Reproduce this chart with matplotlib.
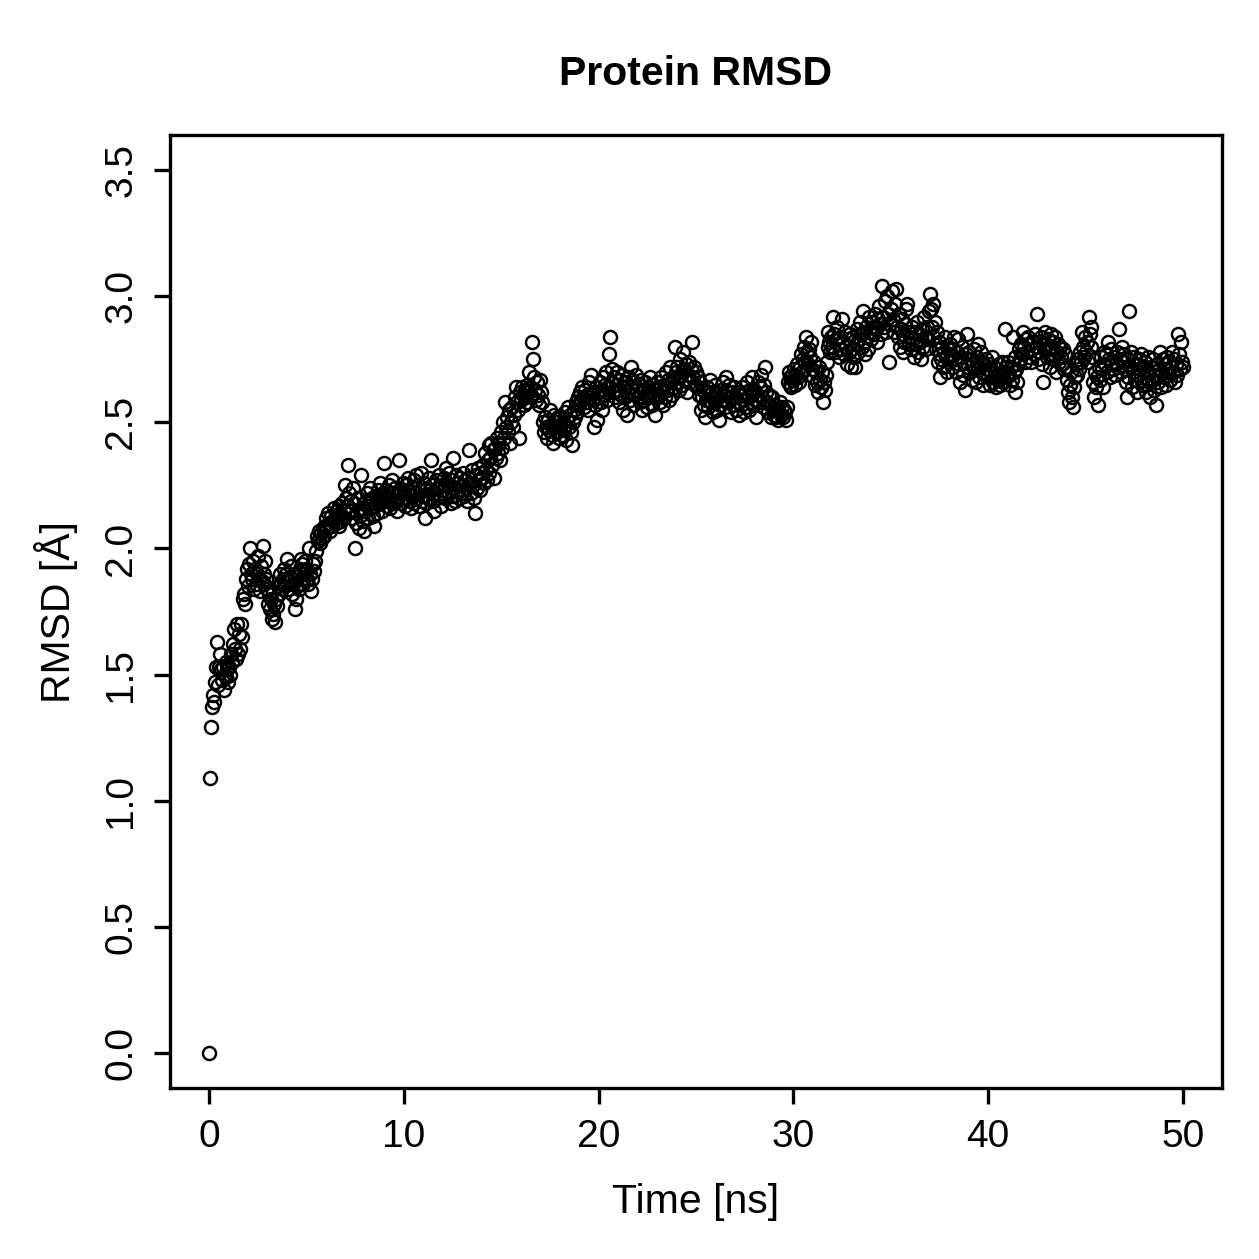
import numpy as np
import matplotlib
matplotlib.use("Agg")
import matplotlib.pyplot as plt

plt.rcParams['font.family'] = ['Liberation Sans', 'DejaVu Sans']

# RMSD values (Angstrom), sampled every 0.05 ns, 20 values per ns
rmsd = [
    0.00, 1.09, 1.29, 1.37, 1.42, 1.39, 1.47, 1.53, 1.63, 1.46, 1.53, 1.58, 1.52, 1.48, 1.53, 1.44, 1.50, 1.55, 1.49, 1.52,
    1.47, 1.53, 1.50, 1.58, 1.55, 1.62, 1.68, 1.60, 1.56, 1.70, 1.58, 1.66, 1.60, 1.70, 1.65, 1.80, 1.82, 1.78, 1.88, 1.92,
    1.85, 1.94, 2.00, 1.90, 1.88, 1.95, 1.84, 1.92, 1.86, 1.90, 1.97, 1.88, 1.83, 1.93, 1.87, 2.01, 1.90, 1.86, 1.95, 1.88,
    1.84, 1.78, 1.82, 1.76, 1.80, 1.72, 1.74, 1.78, 1.71, 1.80, 1.77, 1.85, 1.82, 1.90, 1.86, 1.84, 1.88, 1.92, 1.85, 1.90,
    1.96, 1.88, 1.84, 1.87, 1.93, 1.82, 1.86, 1.90, 1.76, 1.80, 1.85, 1.89, 1.84, 1.92, 1.96, 1.88, 1.94, 1.86, 1.90, 1.95,
    1.92, 1.88, 1.86, 2.00, 1.90, 1.83, 1.88, 1.94, 1.91, 1.95, 1.99, 2.05, 2.03, 2.07, 2.02, 2.06, 2.04, 2.08, 2.05, 2.09,
    2.12, 2.08, 2.14, 2.10, 2.07, 2.13, 2.09, 2.11, 2.16, 2.12, 2.10, 2.15, 2.13, 2.09, 2.17, 2.14, 2.11, 2.18, 2.12, 2.15,
    2.25, 2.20, 2.17, 2.33, 2.22, 2.15, 2.19, 2.12, 2.24, 2.18, 2.00, 2.10, 2.14, 2.20, 2.08, 2.13, 2.29, 2.16, 2.11, 2.07,
    2.15, 2.19, 2.22, 2.12, 2.18, 2.24, 2.16, 2.20, 2.13, 2.09, 2.17, 2.21, 2.14, 2.19, 2.23, 2.18, 2.26, 2.20, 2.15, 2.22,
    2.34, 2.19, 2.23, 2.17, 2.21, 2.25, 2.16, 2.20, 2.27, 2.22, 2.18, 2.24, 2.19, 2.15, 2.21, 2.35, 2.23, 2.18, 2.20, 2.26,
    2.22, 2.17, 2.25, 2.20, 2.28, 2.23, 2.19, 2.16, 2.24, 2.21, 2.27, 2.18, 2.22, 2.29, 2.20, 2.25, 2.17, 2.23, 2.30, 2.19,
    2.21, 2.26, 2.12, 2.18, 2.24, 2.20, 2.28, 2.23, 2.35, 2.25, 2.19, 2.15, 2.22, 2.27, 2.20, 2.24, 2.29, 2.21, 2.17, 2.25,
    2.23, 2.28, 2.20, 2.32, 2.26, 2.22, 2.30, 2.25, 2.18, 2.27, 2.21, 2.36, 2.24, 2.19, 2.29, 2.23, 2.26, 2.20, 2.28, 2.22,
    2.25, 2.30, 2.21, 2.27, 2.24, 2.19, 2.28, 2.39, 2.26, 2.22, 2.31, 2.25, 2.20, 2.14, 2.29, 2.24, 2.32, 2.27, 2.23, 2.30,
    2.28, 2.33, 2.26, 2.38, 2.31, 2.27, 2.35, 2.41, 2.30, 2.36, 2.42, 2.33, 2.39, 2.28, 2.40, 2.36, 2.44, 2.38, 2.42, 2.35,
    2.46, 2.40, 2.50, 2.44, 2.58, 2.48, 2.52, 2.46, 2.55, 2.42, 2.50, 2.56, 2.48, 2.53, 2.60, 2.64, 2.58, 2.55, 2.44, 2.62,
    2.59, 2.64, 2.61, 2.57, 2.63, 2.60, 2.65, 2.58, 2.62, 2.70, 2.64, 2.61, 2.82, 2.75, 2.68, 2.63, 2.59, 2.66, 2.61, 2.57,
    2.67, 2.62, 2.58, 2.50, 2.46, 2.52, 2.48, 2.44, 2.51, 2.47, 2.55, 2.49, 2.45, 2.42, 2.53, 2.48, 2.50, 2.46, 2.52, 2.44,
    2.48, 2.52, 2.45, 2.50, 2.47, 2.54, 2.49, 2.43, 2.51, 2.56, 2.48, 2.53, 2.46, 2.41, 2.50, 2.55, 2.52, 2.58, 2.54, 2.60,
    2.57, 2.62, 2.59, 2.64, 2.60, 2.56, 2.63, 2.58, 2.61, 2.55, 2.66, 2.60, 2.69, 2.59, 2.62, 2.48, 2.57, 2.64, 2.51, 2.60,
    2.62, 2.66, 2.58, 2.63, 2.55, 2.68, 2.61, 2.65, 2.70, 2.59, 2.64, 2.77, 2.84, 2.66, 2.71, 2.62, 2.68, 2.60, 2.65, 2.70,
    2.63, 2.58, 2.67, 2.61, 2.69, 2.55, 2.64, 2.60, 2.66, 2.53, 2.62, 2.68, 2.59, 2.72, 2.64, 2.57, 2.66, 2.61, 2.69, 2.63,
    2.60, 2.65, 2.58, 2.62, 2.67, 2.55, 2.63, 2.59, 2.66, 2.61, 2.56, 2.64, 2.60, 2.68, 2.62, 2.57, 2.65, 2.61, 2.53, 2.63,
    2.66, 2.60, 2.64, 2.58, 2.68, 2.62, 2.57, 2.65, 2.60, 2.70, 2.63, 2.67, 2.59, 2.72, 2.66, 2.61, 2.68, 2.64, 2.80, 2.70,
    2.66, 2.72, 2.68, 2.63, 2.75, 2.69, 2.65, 2.78, 2.71, 2.67, 2.73, 2.62, 2.69, 2.74, 2.66, 2.71, 2.82, 2.68, 2.72, 2.65,
    2.70, 2.64, 2.68, 2.61, 2.66, 2.55, 2.60, 2.63, 2.57, 2.52, 2.59, 2.64, 2.56, 2.61, 2.67, 2.58, 2.62, 2.54, 2.60, 2.65,
    2.58, 2.62, 2.55, 2.60, 2.51, 2.57, 2.63, 2.59, 2.66, 2.61, 2.56, 2.68, 2.62, 2.58, 2.65, 2.60, 2.54, 2.62, 2.57, 2.64,
    2.60, 2.55, 2.62, 2.58, 2.53, 2.61, 2.57, 2.64, 2.59, 2.54, 2.62, 2.56, 2.66, 2.60, 2.55, 2.63, 2.58, 2.68, 2.61, 2.57,
    2.63, 2.59, 2.52, 2.61, 2.66, 2.58, 2.64, 2.69, 2.60, 2.56, 2.65, 2.72, 2.62, 2.58, 2.54, 2.61, 2.57, 2.52, 2.60, 2.55,
    2.53, 2.57, 2.52, 2.55, 2.51, 2.54, 2.58, 2.53, 2.56, 2.52, 2.55, 2.54, 2.51, 2.56, 2.66, 2.70, 2.65, 2.68, 2.64, 2.69,
    2.67, 2.71, 2.65, 2.69, 2.73, 2.68, 2.66, 2.72, 2.77, 2.70, 2.75, 2.80, 2.74, 2.84, 2.78, 2.73, 2.79, 2.76, 2.82, 2.71,
    2.68, 2.74, 2.65, 2.70, 2.66, 2.62, 2.72, 2.67, 2.64, 2.70, 2.58, 2.66, 2.63, 2.69, 2.74, 2.80, 2.86, 2.82, 2.78, 2.84,
    2.80, 2.92, 2.85, 2.78, 2.83, 2.88, 2.81, 2.76, 2.84, 2.79, 2.91, 2.82, 2.77, 2.86, 2.80, 2.73, 2.83, 2.78, 2.85, 2.72,
    2.79, 2.84, 2.76, 2.72, 2.81, 2.87, 2.78, 2.83, 2.90, 2.85, 2.80, 2.94, 2.86, 2.82, 2.77, 2.88, 2.84, 2.79, 2.92, 2.86,
    2.83, 2.90, 2.85, 2.88, 2.93, 2.87, 2.82, 2.91, 2.96, 2.89, 2.85, 3.04, 2.92, 2.88, 2.98, 2.86, 3.00, 2.93, 2.74, 2.89,
    2.95, 3.02, 2.91, 2.86, 2.97, 3.03, 2.88, 2.84, 2.93, 2.80, 2.87, 2.91, 2.78, 2.85, 2.82, 2.89, 2.95, 2.97, 2.86, 2.81,
    2.84, 2.79, 2.88, 2.83, 2.76, 2.86, 2.81, 2.90, 2.78, 2.85, 2.82, 2.75, 2.87, 2.80, 2.92, 2.84, 2.79, 2.88, 2.83, 2.94,
    3.01, 2.95, 2.88, 2.97, 2.84, 2.90, 2.79, 2.86, 2.74, 2.82, 2.77, 2.68, 2.75, 2.80, 2.72, 2.78, 2.84, 2.76, 2.70, 2.79,
    2.74, 2.81, 2.77, 2.72, 2.79, 2.84, 2.75, 2.70, 2.78, 2.83, 2.73, 2.66, 2.76, 2.80, 2.69, 2.74, 2.63, 2.77, 2.85, 2.72,
    2.78, 2.70, 2.75, 2.67, 2.73, 2.79, 2.71, 2.66, 2.76, 2.81, 2.72, 2.68, 2.74, 2.78, 2.70, 2.65, 2.73, 2.69, 2.75, 2.71,
    2.68, 2.73, 2.65, 2.70, 2.76, 2.66, 2.72, 2.68, 2.64, 2.71, 2.67, 2.73, 2.65, 2.69, 2.74, 2.66, 2.70, 2.87, 2.72, 2.68,
    2.74, 2.69, 2.65, 2.72, 2.67, 2.84, 2.70, 2.62, 2.76, 2.71, 2.66, 2.73, 2.79, 2.75, 2.81, 2.77, 2.86, 2.80, 2.74, 2.83,
    2.78, 2.84, 2.76, 2.81, 2.74, 2.79, 2.82, 2.77, 2.85, 2.80, 2.93, 2.75, 2.82, 2.78, 2.84, 2.73, 2.66, 2.79, 2.86, 2.81,
    2.76, 2.83, 2.79, 2.72, 2.85, 2.80, 2.75, 2.82, 2.77, 2.84, 2.70, 2.78, 2.81, 2.74, 2.80, 2.76, 2.73, 2.79, 2.71, 2.77,
    2.72, 2.67, 2.62, 2.58, 2.65, 2.70, 2.60, 2.56, 2.64, 2.68, 2.73, 2.69, 2.75, 2.71, 2.78, 2.74, 2.86, 2.80, 2.76, 2.84,
    2.78, 2.82, 2.74, 2.92, 2.85, 2.80, 2.88, 2.76, 2.66, 2.60, 2.70, 2.64, 2.68, 2.57, 2.72, 2.67, 2.76, 2.71, 2.64, 2.78,
    2.73, 2.77, 2.70, 2.82, 2.75, 2.68, 2.79, 2.74, 2.71, 2.76, 2.69, 2.73, 2.78, 2.72, 2.87, 2.75, 2.70, 2.80, 2.74, 2.77,
    2.71, 2.66, 2.60, 2.75, 2.68, 2.94, 2.72, 2.78, 2.64, 2.70, 2.76, 2.67, 2.73, 2.62, 2.69, 2.75, 2.71, 2.77, 2.65, 2.72,
    2.68, 2.74, 2.62, 2.70, 2.76, 2.66, 2.60, 2.72, 2.67, 2.75, 2.63, 2.69, 2.57, 2.73, 2.66, 2.71, 2.78, 2.64, 2.70, 2.75,
    2.68, 2.73, 2.65, 2.71, 2.76, 2.69, 2.74, 2.67, 2.72, 2.78, 2.70, 2.75, 2.66, 2.73, 2.69, 2.85, 2.77, 2.71, 2.82, 2.74,
    2.72,
]
time_step_ns = 0.05
time_ns = np.arange(len(rmsd)) * time_step_ns

x_ticks = [0, 10, 20, 30, 40, 50]
y_ticks = [0.0, 0.5, 1.0, 1.5, 2.0, 2.5, 3.0, 3.5]
y_tick_labels = ["0.0", "0.5", "1.0", "1.5", "2.0", "2.5", "3.0", "3.5"]

W = H = 1259
fig = plt.figure(figsize=(W / 100, H / 100), dpi=100)
ax = fig.add_axes([170 / W, 1 - 1088 / H, (1222 - 170) / W, (1088 - 135) / H])

ax.plot(time_ns, rmsd, linestyle='none', marker='o', markersize=9.4,
        markerfacecolor='none', markeredgecolor='black', markeredgewidth=1.75)

ax.set_xlim(-2, 52)
ax.set_ylim(-0.14, 3.64)
ax.set_xticks(x_ticks)
ax.set_xticklabels([str(v) for v in x_ticks])
ax.set_yticks(y_ticks)
ax.set_yticklabels(y_tick_labels, rotation=90, va='center')

for s in ax.spines.values():
    s.set_linewidth(2.4)
ax.tick_params(axis='both', direction='out', length=11.5, width=2.4,
               labelsize=28, pad=10.5, colors='black')

fig.text(696 / W, 1 - 1213 / H, "Time [ns]", ha='center', va='baseline', fontsize=29.5)
fig.text(70 / W, 1 - 612 / H, "RMSD [Å]", ha='center', va='baseline', rotation=90,
         rotation_mode='anchor', fontsize=29.5)
fig.text(696 / W, 1 - 85 / H, "Protein RMSD", ha='center', va='baseline',
         fontsize=29.5, fontweight='bold')

fig.savefig("out.png", dpi=100)
